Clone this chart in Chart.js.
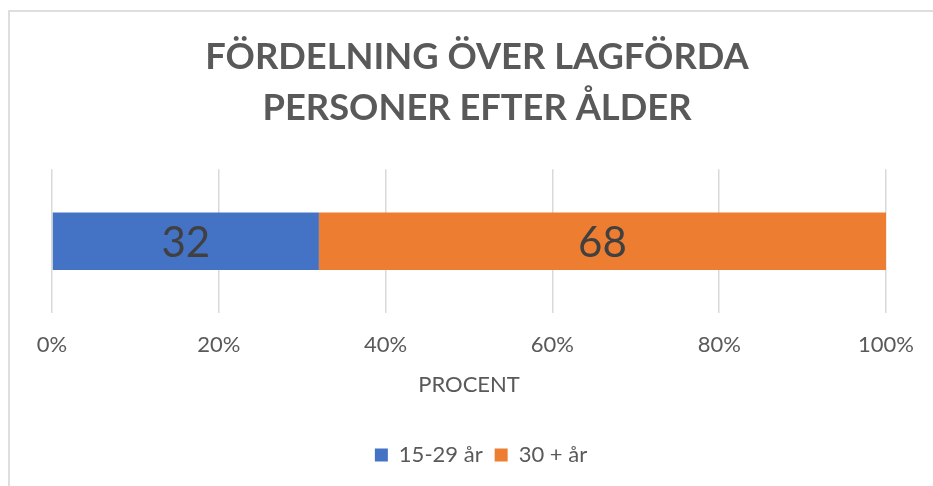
<!DOCTYPE html>
<html lang="sv">
<head>
<meta charset="UTF-8">
<title>Fördelning över lagförda personer efter ålder</title>
<script src="https://cdn.jsdelivr.net/npm/chart.js"></script>
<style>
    body {
        margin: 0;
        background: #ffffff;
    }
    .frame {
        position: absolute;
        left: 8px;
        top: 10px;
        width: 940px;
        height: 490px;
        border-left: 2px solid #dedede;
        border-top: 2px solid #dedede;
    }
    .chart-box {
        position: absolute;
        left: 0;
        top: 0;
        width: 933px;
        height: 486px;
    }
</style>
</head>
<body>
<div class="frame"></div>
<div class="chart-box">
    <canvas id="ageChart"></canvas>
</div>
<script>
// Data
const categories = ['Lagförda'];
const seriesNames = ['15-29 år', '30 + år'];
const youngValues = [32];
const olderValues = [68];
const tickLabels = ['0%', '20%', '40%', '60%', '80%', '100%'];

const titleLines = ['FÖRDELNING ÖVER LAGFÖRDA', 'PERSONER EFTER ÅLDER'];
const axisTitle = 'PROCENT';

// draws the value in the middle of each bar segment
const barValueLabels = {
    id: 'barValueLabels',
    afterLayout(chart) {
        // title and legend sit a little right of the plot centre in the original
        if (chart.titleBlock) {
            chart.titleBlock.left += 6;
            chart.titleBlock.right += 6;
        }
        if (chart.legend) {
            chart.legend.left += 10;
            chart.legend.right += 10;
        }
    },
    afterDatasetsDraw(chart) {
        const ctx = chart.ctx;
        ctx.save();
        ctx.font = '42px Lato, sans-serif';
        ctx.fillStyle = '#404040';
        ctx.textAlign = 'center';
        ctx.textBaseline = 'middle';
        chart.data.datasets.forEach((ds, i) => {
            const meta = chart.getDatasetMeta(i);
            meta.data.forEach((bar, j) => {
                const p = bar.getProps(['x', 'y', 'base'], true);
                const cx = (p.x + p.base) / 2;
                ctx.fillText(String(ds.data[j]), cx, p.y + 2);
            });
        });
        ctx.restore();
    }
};

const ctx = document.getElementById('ageChart').getContext('2d');
new Chart(ctx, {
    type: 'bar',
    data: {
        labels: categories,
        datasets: [
            {
                label: seriesNames[0],
                data: youngValues,
                backgroundColor: '#4472C4',
                barPercentage: 0.8,
                categoryPercentage: 0.5
            },
            {
                label: seriesNames[1],
                data: olderValues,
                backgroundColor: '#ED7D31',
                barPercentage: 0.8,
                categoryPercentage: 0.5
            }
        ]
    },
    options: {
        indexAxis: 'y',
        responsive: true,
        maintainAspectRatio: false,
        animation: false,
        layout: {
            padding: { left: 52, right: 43, top: 0, bottom: 10 }
        },
        plugins: {
            title: {
                display: true,
                text: titleLines,
                color: '#595959',
                font: { family: 'Lato, sans-serif', size: 36.3, weight: 'bold', lineHeight: 1.41 },
                padding: { top: 32, bottom: 35 }
            },
            legend: {
                position: 'bottom',
                labels: {
                    color: '#595959',
                    font: { family: 'Lato, sans-serif', size: 22 },
                    boxWidth: 13,
                    boxHeight: 13,
                    padding: 12
                }
            },
            tooltip: { enabled: false }
        },
        scales: {
            x: {
                stacked: true,
                min: 0,
                max: 100,
                ticks: {
                    stepSize: 20,
                    color: '#595959',
                    font: { family: 'Lato, sans-serif', size: 22 },
                    padding: 19,
                    callback: (v) => tickLabels[v / 20]
                },
                grid: {
                    color: '#d9d9d9',
                    lineWidth: 1.5,
                    drawTicks: false
                },
                border: { display: false },
                title: {
                    display: true,
                    text: axisTitle,
                    color: '#595959',
                    font: { family: 'Lato, sans-serif', size: 22 },
                    padding: { top: -6, bottom: 34 }
                }
            },
            y: {
                stacked: true,
                display: false
            }
        }
    },
    plugins: [barValueLabels]
});
</script>
</body>
</html>
